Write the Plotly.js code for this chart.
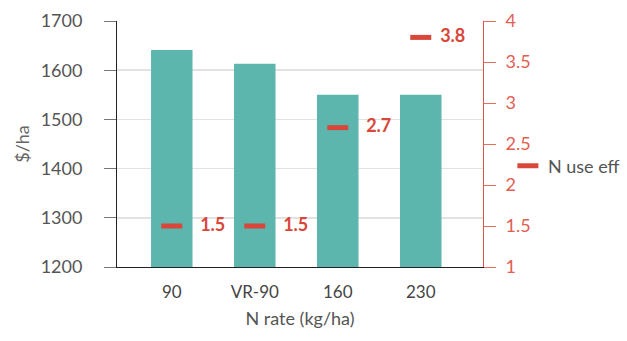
<!DOCTYPE html>
<html><head><meta charset="utf-8">
<script src="https://cdn.plot.ly/plotly-3.0.1.min.js"></script>
<style>body{margin:0;padding:0;background:#fff}#chart{width:627px;height:341px}</style>
</head><body><div id="chart"></div>
<script>
var categories = ["90", "VR-90", "160", "230"];
var dollarsPerHa = [1641, 1613, 1550, 1550];
var nUseEff = [1.5, 1.5, 2.7, 3.8];
var nUseEffLabels = ["1.5", "1.5", "2.7", "3.8"];

var FONT = "Lato, 'Open Sans', sans-serif";
var RED = "#D9473A";
var traces = [
  {type: "bar", x: categories, y: dollarsPerHa, marker: {color: "#5CB6AD"}, width: 0.5, showlegend: false, hoverinfo: "skip"},
  {type: "scatter", mode: "markers+text", x: categories, y: nUseEff, yaxis: "y2", name: "N use eff",
   marker: {symbol: "line-ew", size: 15, line: {color: RED, width: 5}, color: RED},
   text: nUseEffLabels,
   texttemplate: ["\u2002\u2002%{text}", "\u2002\u2002%{text}", "\u2002\u2002%{text}", "\u2002%{text}"],
   textposition: "middle right",
   textfont: {family: FONT, size: 18, color: RED, weight: "bold"}}
];
var layout = {
  width: 627, height: 341,
  margin: {l: 117, r: 144, t: 21, b: 74, autoexpand: false},
  paper_bgcolor: "#fff", plot_bgcolor: "#fff",
  font: {family: FONT, size: 17, color: "#555"},
  xaxis: {type: "category", range: [-0.66, 3.75], showline: true, linecolor: "#222", linewidth: 1,
          ticks: "", ticklabelstandoff: 10, tickfont: {size: 17, color: "#444"}, automargin: false,
          title: {text: "N rate (kg/ha)", font: {size: 18, color: "#555"}, standoff: 10}},
  yaxis: {range: [1200, 1700], dtick: 100, showline: true, linecolor: "#222", linewidth: 1,
          ticks: "outside", ticklen: 12, tickcolor: "#777", ticklabelstandoff: 18, automargin: false,
          gridcolor: "#e2e2e2", gridwidth: 1.5, zeroline: false, tickfont: {size: 18, color: "#555"},
          title: {text: "$/ha", font: {size: 18, color: "#666"}, standoff: 6}},
  yaxis2: {range: [1, 4], dtick: 0.5, overlaying: "y", side: "right", showgrid: false, zeroline: false,
           showline: true, linecolor: "#D9534A", linewidth: 1, ticks: "outside", ticklen: 12, automargin: false,
           tickcolor: "#E07060", ticklabelstandoff: 6, tickfont: {size: 18, color: "#E06052"}},
  legend: {x: 1.068, y: 0.41, xanchor: "left", yanchor: "middle", font: {size: 18, color: "#555"}, bgcolor: "rgba(0,0,0,0)"},
  showlegend: true
};
Plotly.newPlot("chart", traces, layout, {staticPlot: true, displayModeBar: false});
</script></body></html>
